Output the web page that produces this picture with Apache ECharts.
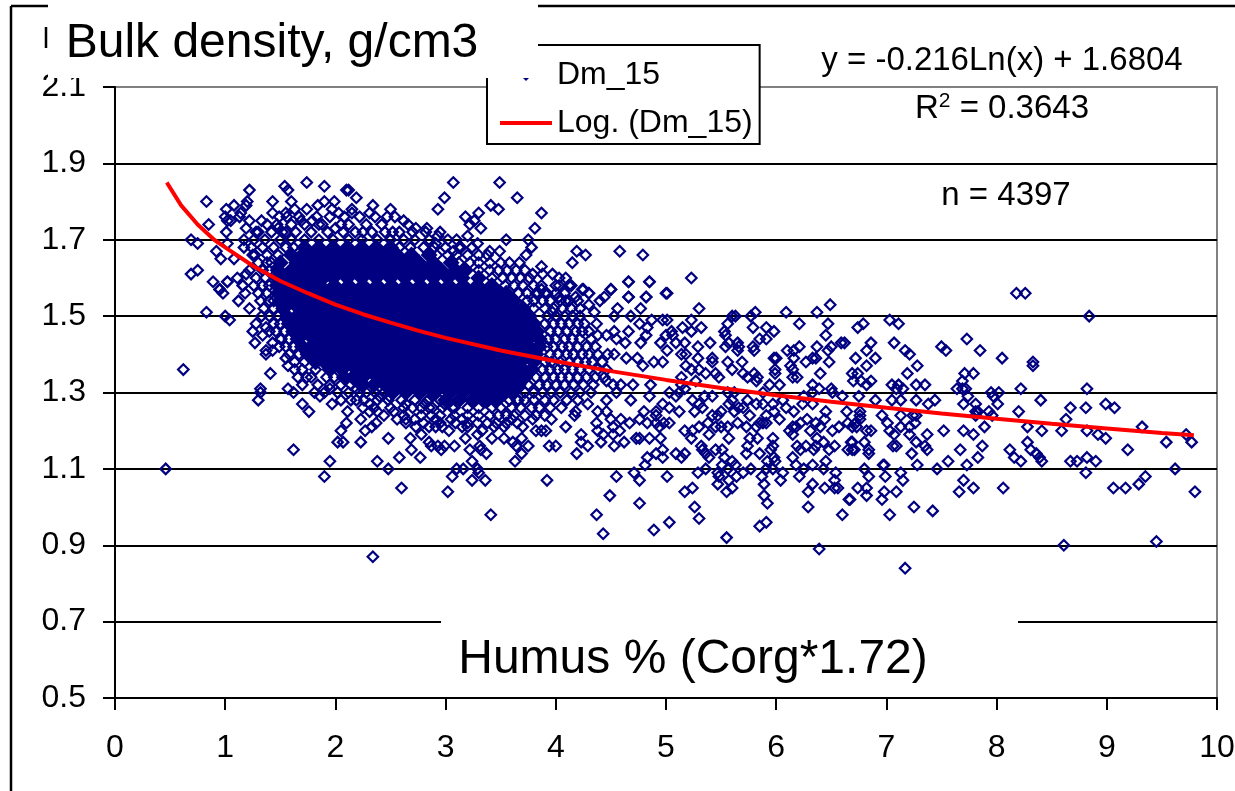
<!DOCTYPE html>
<html>
<head>
<meta charset="utf-8">
<style>
  html, body { margin: 0; padding: 0; background: #fff; }
  #chart { width: 1235px; height: 791px; }
</style>
<script src="https://cdn.jsdelivr.net/npm/echarts@6/dist/echarts.min.js"></script>
</head>
<body>
<div id="chart"></div>
<script>
// values. individual points where they can be told apart
const leftPoints = [[0.46,1.10],[0.62,1.36],[0.83,1.51],[1.0,1.5],[1.04,1.49],[0.89,1.59],[0.95,1.57],[0.98,1.56],[1.02,1.59],[1.16,1.58],[1.18,1.56],[1.12,1.54],[1.22,1.52],[1.28,1.48],[1.25,1.46],[1.27,1.43],[1.34,1.45],[1.37,1.47],[1.33,1.5],[1.4,1.46],[1.43,1.43],[1.37,1.41],[1.37,1.4],[1.51,1.44],[1.49,1.42],[1.43,1.41],[1.55,1.39],[1.57,1.37],[1.63,1.36],[1.41,1.35],[1.66,1.34],[1.74,1.34],[1.7,1.32],[1.57,1.31],[1.62,1.3],[1.32,1.31],[1.32,1.3],[1.3,1.28],[1.7,1.27],[1.76,1.25],[1.81,1.3],[1.86,1.29],[1.97,1.27],[1.95,1.31],[2.11,1.25],[2.23,1.23],[2.1,1.22],[2.05,1.2],[2.02,1.17],[2.07,1.17],[2.27,1.2],[2.33,1.21],[2.37,1.22],[2.23,1.17],[1.62,1.15],[1.95,1.12],[1.9,1.08],[2.38,1.12],[2.48,1.1],[2.48,1.18],[2.6,1.05],[2.58,1.13],[2.68,1.18],[2.69,1.15],[2.77,1.13],[3.02,1.04],[3.06,1.08],[3.1,1.1],[3.16,1.1],[3.24,1.12],[3.24,1.07],[3.29,1.1],[3.3,1.09],[3.36,1.07],[3.37,1.14],[3.31,1.16],[3.32,1.15],[3.22,1.15],[3.42,1.18],[3.41,0.98],[2.34,0.87],[2.96,1.15],[2.99,1.16],[3.08,1.16],[2.85,1.17],[2.87,1.16],[2.93,1.16],[3.18,1.18],[3.29,1.19],[2.78,1.19],[2.73,1.21],[2.64,1.22],[2.56,1.23],[2.44,1.24],[2.38,1.25],[2.31,1.25],[2.25,1.26],[2.19,1.28],[2.31,1.27],[2.53,1.25],[2.62,1.26],[2.72,1.23],[2.64,1.23],[2.85,1.21],[2.91,1.21],[2.97,1.21],[3.03,1.2],[3.09,1.22],[3.15,1.21],[3.2,1.21],[2.81,1.27],[2.88,1.26],[2.87,1.24],[2.91,1.23],[3.05,1.23],[2.99,1.27],[2.78,1.26],[3.29,1.22],[3.33,1.2],[3.44,1.21],[2.19,1.31],[2.28,1.3],[2.4,1.29],[2.49,1.29],[2.22,1.32],[2.64,1.27],[2.91,1.32],[2.88,1.29],[3.06,1.26],[3.15,1.23]];

const topPoints = [[0.83,1.8],[0.85,1.74],[0.69,1.7],[0.75,1.69],[0.69,1.61],[0.75,1.62],[1.01,1.78],[1.08,1.79],[1.2,1.8],[1.19,1.79],[1.22,1.83],[1.54,1.84],[1.57,1.83],[1.74,1.85],[1.9,1.84],[2.1,1.83],[2.12,1.83],[1.43,1.8],[1.6,1.8],[2.19,1.81],[1.99,1.8],[1.9,1.8],[1.84,1.79],[2.34,1.79],[1.0,1.76],[1.02,1.75],[1.05,1.75],[1.14,1.77],[1.13,1.76],[1.22,1.75],[1.33,1.75],[1.43,1.77],[1.49,1.76],[1.55,1.77],[1.63,1.78],[1.74,1.78],[1.69,1.75],[1.79,1.75],[1.88,1.74],[1.97,1.78],[2.03,1.77],[2.15,1.78],[2.15,1.77],[2.31,1.77],[2.5,1.78],[2.62,1.75],[2.47,1.76],[2.73,1.73],[2.58,1.72],[1.01,1.72],[1.19,1.73],[1.28,1.72],[1.48,1.73],[1.02,1.69],[1.17,1.7],[1.17,1.68],[0.92,1.67],[0.96,1.65],[1.08,1.65],[1.19,1.61],[1.11,1.6],[1.02,1.59],[0.95,1.57],[1.16,1.58],[1.25,1.66],[2.0,1.73],[2.25,1.72],[1.52,1.72],[3.07,1.85],[3.49,1.85],[2.99,1.81],[3.65,1.81],[2.93,1.78],[3.41,1.79],[3.48,1.78],[3.87,1.77],[3.18,1.76],[3.3,1.77],[3.26,1.75],[3.22,1.74],[3.32,1.73],[3.81,1.73],[2.83,1.73],[3.55,1.7],[3.75,1.7],[3.02,1.7],[2.93,1.71],[3.2,1.71],[3.78,1.68],[4.19,1.67],[4.27,1.66],[4.58,1.67],[4.79,1.66],[4.15,1.64],[3.87,1.63],[4.66,1.59],[4.85,1.59],[5.23,1.6],[5.0,1.56],[4.5,1.57],[4.82,1.55],[4.66,1.55],[3.97,1.61],[4.03,1.6],[4.09,1.6],[4.14,1.58],[4.24,1.57],[4.3,1.56],[3.79,1.61],[3.88,1.61],[4.0,1.58],[3.87,1.58],[3.67,1.64],[3.73,1.66],[3.14,1.68],[3.29,1.69],[3.4,1.67],[3.49,1.67],[3.07,1.67],[2.91,1.69]];

const middlePoints = [[4.5,1.57],[4.66,1.59],[4.85,1.59],[5.01,1.56],[4.82,1.55],[4.66,1.55],[4.77,1.52],[5.3,1.52],[4.56,1.52],[6.49,1.53],[6.37,1.51],[6.09,1.51],[5.81,1.51],[5.63,1.5],[4.53,1.5],[4.68,1.5],[4.25,1.57],[4.3,1.56],[4.44,1.55],[4.03,1.58],[4.12,1.58],[3.87,1.57],[3.9,1.56],[4.03,1.55],[4.18,1.55],[4.3,1.53],[4.4,1.54],[4.35,1.51],[3.97,1.51],[4.09,1.54],[5.6,1.5],[5.77,1.5],[6.21,1.48],[6.47,1.48],[5.79,1.47],[5.91,1.47],[5.98,1.46],[5.56,1.48],[5.32,1.47],[5.23,1.49],[5.15,1.47],[5.23,1.46],[4.97,1.49],[5.01,1.49],[4.87,1.49],[4.83,1.47],[4.76,1.48],[4.66,1.46],[4.53,1.46],[4.37,1.48],[5.05,1.46],[5.06,1.45],[5.53,1.46],[5.54,1.45],[4.82,1.45],[5.0,1.45],[6.45,1.45],[5.4,1.43],[4.95,1.43],[4.77,1.43],[4.63,1.43],[4.55,1.44],[4.46,1.45],[4.38,1.45],[4.32,1.44],[5.09,1.43],[5.17,1.43],[5.57,1.43],[5.65,1.43],[5.85,1.44],[5.91,1.44],[6.59,1.43],[6.62,1.43],[6.21,1.42],[6.37,1.42],[5.29,1.42],[5.54,1.42],[5.66,1.42],[5.79,1.42],[5.01,1.41],[6.16,1.41],[6.1,1.41],[6.5,1.42],[6.47,1.41],[5.65,1.41],[5.8,1.41],[5.14,1.4],[5.18,1.4],[5.29,1.39],[5.98,1.39],[6.0,1.39],[6.16,1.39],[6.33,1.39],[6.36,1.39],[6.48,1.38],[6.27,1.38],[5.69,1.38],[5.42,1.39],[5.42,1.38],[5.56,1.38],[4.97,1.38],[4.89,1.38],[4.64,1.39],[4.74,1.39],[4.47,1.4],[4.53,1.4],[5.18,1.37],[4.79,1.37],[6.13,1.37],[6.15,1.36],[5.3,1.36],[5.36,1.35],[5.45,1.35],[5.48,1.34],[5.6,1.36],[5.23,1.36],[5.99,1.36],[5.7,1.35],[5.74,1.34],[5.8,1.35],[5.83,1.34],[5.99,1.35],[6.15,1.34],[6.4,1.35],[5.14,1.34],[5.27,1.33],[5.82,1.33],[6.19,1.34],[5.94,1.32],[6.03,1.32],[6.33,1.32],[6.39,1.31],[6.5,1.31],[6.6,1.29],[4.86,1.32],[4.7,1.32],[4.59,1.32],[4.52,1.32],[4.46,1.33],[5.14,1.32],[5.17,1.31],[5.12,1.3],[5.09,1.29],[5.03,1.3],[4.85,1.29],[4.68,1.28],[4.46,1.28],[4.55,1.3],[5.42,1.29],[5.35,1.29],[5.56,1.3],[5.6,1.28],[5.24,1.28],[5.62,1.3],[6.33,1.3],[5.74,1.28],[5.88,1.3],[6.06,1.28],[6.24,1.27],[6.33,1.27],[6.25,1.29],[6.51,1.3],[4.97,1.27],[5.3,1.27],[5.57,1.27],[5.66,1.26],[5.62,1.25],[5.7,1.26],[5.82,1.27],[5.88,1.27],[5.97,1.27],[6.09,1.26],[6.16,1.25],[6.45,1.25],[6.64,1.25],[4.8,1.25],[4.91,1.25],[4.91,1.24],[5.03,1.26],[4.18,1.25],[4.17,1.24],[4.29,1.27],[4.38,1.25],[4.46,1.25],[5.26,1.25],[5.33,1.26],[5.12,1.25],[5.42,1.24],[5.47,1.24],[5.5,1.25],[5.76,1.24],[5.91,1.24],[5.98,1.25],[5.85,1.22],[5.91,1.22],[6.03,1.23],[6.44,1.23],[4.5,1.23],[4.59,1.23],[4.37,1.22],[4.76,1.23],[5.03,1.22],[4.98,1.22],[5.3,1.21],[5.38,1.22],[5.65,1.22],[6.15,1.21],[6.28,1.23],[6.36,1.22],[6.65,1.22],[4.09,1.21],[3.79,1.23],[3.7,1.21],[3.82,1.2],[3.87,1.2],[3.91,1.2],[3.96,1.23],[3.6,1.23],[3.53,1.21],[4.52,1.21],[4.67,1.22],[4.83,1.22],[4.91,1.22],[4.94,1.21],[5.17,1.2],[5.24,1.2],[5.45,1.21],[5.5,1.21],[5.56,1.21],[5.73,1.21],[5.82,1.21],[5.88,1.22],[6.12,1.2],[6.18,1.21],[6.22,1.22],[6.31,1.2],[6.4,1.21],[6.51,1.2],[6.57,1.21],[4.23,1.19],[4.43,1.19],[4.38,1.2],[4.52,1.19],[4.58,1.2],[4.73,1.18],[4.76,1.18],[4.85,1.18],[4.95,1.18],[5.23,1.18],[5.39,1.19],[5.57,1.18],[5.76,1.18],[5.83,1.18],[5.97,1.18],[6.15,1.19],[6.37,1.18],[6.43,1.17],[3.53,1.18],[3.61,1.17],[3.69,1.18],[3.75,1.16],[3.94,1.16],[4.0,1.16],[4.23,1.17],[4.29,1.16],[4.41,1.17],[4.53,1.16],[4.62,1.17],[5.32,1.16],[5.74,1.16],[5.97,1.16],[6.19,1.16],[6.27,1.16],[6.53,1.16],[6.36,1.16],[6.68,1.17],[3.64,1.16],[3.69,1.14],[4.19,1.14],[4.97,1.15],[4.91,1.14],[5.09,1.14],[5.17,1.14],[5.33,1.15],[5.36,1.14],[5.45,1.15],[5.51,1.15],[5.73,1.14],[5.85,1.14],[5.95,1.15],[5.98,1.13],[6.15,1.13],[6.22,1.15],[6.34,1.15],[6.48,1.15],[6.65,1.15],[4.83,1.13],[4.97,1.13],[5.14,1.13],[5.39,1.13],[5.53,1.13],[3.63,1.12],[4.81,1.11],[5.6,1.12],[5.63,1.11],[5.51,1.11],[5.92,1.12],[5.99,1.12],[5.91,1.1],[5.97,1.1],[6.06,1.09],[6.18,1.11],[6.33,1.11],[6.45,1.12],[6.54,1.09],[6.97,1.11],[5.36,1.1],[5.56,1.1],[5.77,1.1],[6.25,1.1],[6.43,1.1],[5.29,1.09],[4.71,1.09],[5.47,1.09],[5.7,1.09],[6.53,1.07],[3.92,1.07],[4.55,1.08],[4.76,1.07],[5.01,1.08],[5.48,1.08],[5.47,1.06],[5.57,1.07],[5.64,1.08],[5.87,1.08],[6.21,1.08],[6.04,1.07],[5.89,1.06],[6.33,1.06],[5.17,1.04],[5.24,1.05],[5.55,1.04],[5.6,1.05],[6.44,1.05],[6.53,1.05],[6.56,1.05],[6.29,1.04],[4.49,1.03],[5.89,1.03],[5.92,1.01],[4.76,1.01],[6.66,1.02],[5.26,1.0],[6.29,1.0],[5.3,0.97],[4.37,0.98],[6.6,0.98],[5.03,0.96],[5.91,0.96],[5.85,0.95],[4.89,0.94],[4.43,0.93],[5.55,0.92],[6.39,0.89]];

const rightPoints = [[8.18,1.56],[8.26,1.56],[8.84,1.5],[7.03,1.49],[7.11,1.48],[6.79,1.48],[6.74,1.47],[6.86,1.43],[7.07,1.43],[7.73,1.44],[7.5,1.42],[7.54,1.41],[7.85,1.41],[7.17,1.41],[7.21,1.4],[6.82,1.41],[6.72,1.39],[6.9,1.39],[8.05,1.39],[8.33,1.38],[8.33,1.37],[7.28,1.37],[6.82,1.37],[7.19,1.35],[7.71,1.35],[7.79,1.35],[6.69,1.35],[6.74,1.35],[7.69,1.33],[6.86,1.33],[6.77,1.33],[6.7,1.33],[6.82,1.32],[7.05,1.32],[7.11,1.32],[7.09,1.31],[7.15,1.31],[7.27,1.32],[7.35,1.32],[7.64,1.31],[7.69,1.31],[7.72,1.31],[8.22,1.31],[8.82,1.31],[7.74,1.29],[7.95,1.3],[7.97,1.29],[8.02,1.3],[6.75,1.29],[6.9,1.28],[7.05,1.28],[7.13,1.28],[7.27,1.28],[7.44,1.28],[7.38,1.27],[7.7,1.27],[7.81,1.27],[8.01,1.27],[8.4,1.28],[8.99,1.27],[8.67,1.26],[8.81,1.26],[9.07,1.26],[8.2,1.25],[7.81,1.25],[7.83,1.25],[7.93,1.25],[6.76,1.25],[6.76,1.24],[6.76,1.23],[6.96,1.24],[7.13,1.24],[7.24,1.24],[7.27,1.24],[7.81,1.24],[7.96,1.24],[8.63,1.23],[7.01,1.22],[6.72,1.22],[7.26,1.22],[7.21,1.21],[7.13,1.21],[7.89,1.21],[8.28,1.21],[9.32,1.21],[7.52,1.2],[7.7,1.2],[8.41,1.2],[8.59,1.2],[8.82,1.2],[7.03,1.2],[6.82,1.2],[6.86,1.2],[6.69,1.21],[6.73,1.21],[7.07,1.19],[7.21,1.19],[7.37,1.19],[7.79,1.19],[8.92,1.19],[9.72,1.19],[8.99,1.18],[6.8,1.17],[7.06,1.16],[7.09,1.16],[7.27,1.17],[7.35,1.16],[7.87,1.16],[8.28,1.17],[9.54,1.17],[9.77,1.17],[6.69,1.17],[6.69,1.15],[6.71,1.15],[6.84,1.15],[6.84,1.14],[7.37,1.15],[7.67,1.15],[8.12,1.15],[8.31,1.15],[9.19,1.15],[7.23,1.14],[8.36,1.14],[7.83,1.13],[8.16,1.13],[8.39,1.13],[8.82,1.13],[6.98,1.11],[7.28,1.11],[7.56,1.12],[7.73,1.11],[8.22,1.12],[8.41,1.12],[8.67,1.12],[8.73,1.12],[8.9,1.12],[6.8,1.1],[7.46,1.1],[9.62,1.1],[7.13,1.09],[8.81,1.09],[6.84,1.08],[6.99,1.08],[9.35,1.08],[7.15,1.07],[7.7,1.07],[9.29,1.06],[6.74,1.05],[6.82,1.05],[7.79,1.05],[8.06,1.05],[9.06,1.05],[9.17,1.05],[9.8,1.04],[6.98,1.04],[7.09,1.04],[7.66,1.04],[6.82,1.03],[6.96,1.02],[6.67,1.02],[7.25,1.0],[7.42,0.99],[7.03,0.98],[8.61,0.9],[9.45,0.91],[7.17,0.84]];

// half dense zone right of the solid cloud: humus values per density row
const shoulderY = [1.56,1.54,1.52,1.5,1.48,1.46,1.44,1.42,1.4,1.38,1.36,1.34,1.32,1.3,1.28,1.26,1.24,1.22];
const shoulderX = [
  [3.84,3.92,4.0,4.08],
  [3.88,3.95,4.04,4.12,4.2],
  [3.9,3.98,4.06,4.14,4.22],
  [3.92,4.0,4.08,4.15,4.22],
  [3.9,3.98,4.05,4.12,4.2,4.26],
  [3.95,4.02,4.1,4.18,4.24,4.3],
  [3.93,4.0,4.08,4.15,4.22],
  [3.92,3.98,4.06,4.12,4.2,4.28,4.36],
  [3.95,4.02,4.1,4.16,4.24,4.3,4.38],
  [3.9,3.96,4.04,4.12,4.2,4.27,4.33,4.42],
  [3.88,3.95,4.02,4.08,4.15,4.22,4.3,4.38,4.46],
  [3.82,3.9,3.98,4.05,4.12,4.2,4.28,4.36,4.44],
  [3.75,3.85,3.92,4.0,4.08,4.16,4.25,4.34],
  [3.72,3.8,3.88,3.96,4.04,4.14,4.22,4.32],
  [3.65,3.72,3.8,3.9,3.98,4.1,4.2],
  [3.6,3.68,3.78,3.85,3.95,4.05],
  [3.55,3.62,3.72,3.82,3.9],
  [3.46,3.55,3.65]
];

// crowded rim around the solid cloud, same row layout
const rimY = [1.76,1.74,1.72,1.7,1.68,1.66,1.64,1.62,1.6,1.58,1.56,1.54,1.52,1.5,1.48,1.46,1.44,1.42,1.4,1.38,1.36,1.34,1.32,1.3,1.28,1.26,1.24,1.22];
const rimX = [
  [1.56,1.67,1.83,1.95,2.08,2.22,2.36,2.54],
  [1.38,1.47,1.6,1.72,1.85,2.05,2.12,2.28,2.42,2.66],
  [1.3,1.42,1.55,1.64,1.78,1.93,2.07,2.18,2.33,2.45,2.52,2.7,2.82,2.95],
  [1.26,1.36,1.5,1.6,1.72,1.85,1.98,2.12,2.24,2.38,2.5,2.62,2.72,2.85,3.1],
  [1.24,1.34,1.44,1.55,1.62,2.58,2.68,2.8,2.9,3.0,3.12,3.24],
  [1.27,1.38,1.48,2.92,3.02,3.1,3.2,3.3,3.38],
  [1.3,1.38,1.42,3.12,3.22,3.3,3.4,3.5,3.58],
  [1.22,1.34,1.4,3.3,3.4,3.48,3.56,3.64,3.72],
  [1.28,1.36,3.42,3.52,3.6,3.68,3.76],
  [1.26,1.34,1.4,3.54,3.62,3.7,3.8],
  [1.3,1.38,3.66,3.74,3.82],
  [1.32,1.4,1.44,3.74,3.8],
  [1.35,1.44,3.8],
  [1.4,1.48],
  [1.44,1.5],
  [1.46,1.54],
  [1.5,1.58],
  [1.55,1.62],
  [1.58,1.67],
  [1.63,1.72],
  [1.7,1.82],
  [1.78,1.92,1.99],
  [1.84,1.95,2.05,2.14],
  [1.9,2.02,2.12,2.22,2.36,2.44],
  [2.05,2.14,2.26,2.38,2.48,2.6,2.72,2.84,2.95,3.48,3.58,3.66],
  [2.35,2.5,2.7,2.85,2.97,3.08,3.2,3.3,3.42,3.5],
  [2.62,2.78,2.95,3.08,3.2,3.3,3.4,3.48],
  [2.8,2.95,3.2,3.38]
];

// the solid cloud, too overlapped to separate: drawn as filled diamonds per density row
const coreY = [1.68,1.66,1.64,1.62,1.6,1.58,1.56,1.54,1.52,1.5,1.48,1.46,1.44,1.42,1.4,1.38,1.36,1.34,1.32,1.3,1.28];
const coreX = [
  [1.72,1.85,1.98,2.11,2.24,2.37,2.5],
  [1.6,1.7,1.78,1.91,2.04,2.17,2.3,2.43,2.56,2.69,2.85],
  [1.5,1.65,1.75,1.85,1.98,2.11,2.24,2.37,2.5,2.63,2.76,2.89,3.05],
  [1.48,1.6,1.72,1.82,1.92,2.05,2.18,2.31,2.44,2.57,2.7,2.83,2.96,3.09,3.18],
  [1.47,1.55,1.66,1.79,1.89,1.98,2.11,2.24,2.37,2.5,2.63,2.76,2.89,3.02,3.15,3.3],
  [1.47,1.6,1.73,1.86,1.99,2.12,2.25,2.38,2.51,2.64,2.77,2.9,3.03,3.16,3.29,3.42],
  [1.48,1.54,1.67,1.8,1.93,2.06,2.19,2.32,2.45,2.58,2.71,2.84,2.97,3.1,3.23,3.36,3.49,3.55],
  [1.5,1.6,1.73,1.86,1.99,2.12,2.25,2.38,2.51,2.64,2.77,2.9,3.03,3.16,3.29,3.42,3.55,3.62],
  [1.53,1.67,1.8,1.93,2.06,2.19,2.32,2.45,2.58,2.71,2.84,2.97,3.1,3.23,3.36,3.49,3.62,3.7],
  [1.56,1.65,1.73,1.86,1.99,2.12,2.25,2.38,2.51,2.64,2.77,2.9,3.03,3.16,3.29,3.42,3.55,3.68,3.76],
  [1.58,1.67,1.8,1.93,2.06,2.19,2.32,2.45,2.58,2.71,2.84,2.97,3.1,3.23,3.36,3.49,3.62,3.75,3.8],
  [1.62,1.73,1.86,1.99,2.12,2.25,2.38,2.51,2.64,2.77,2.9,3.03,3.16,3.29,3.42,3.55,3.68,3.76,3.83],
  [1.66,1.8,1.93,2.06,2.19,2.32,2.45,2.58,2.71,2.84,2.97,3.1,3.23,3.36,3.49,3.62,3.75,3.85],
  [1.7,1.78,1.86,1.99,2.12,2.25,2.38,2.51,2.64,2.77,2.9,3.03,3.16,3.29,3.42,3.55,3.68,3.76,3.85],
  [1.75,1.84,1.93,2.06,2.19,2.32,2.45,2.58,2.71,2.84,2.97,3.1,3.23,3.36,3.49,3.62,3.75,3.82],
  [1.82,1.9,1.99,2.12,2.25,2.38,2.51,2.64,2.77,2.9,3.03,3.16,3.29,3.42,3.55,3.68,3.8],
  [1.95,2.06,2.19,2.32,2.45,2.58,2.71,2.84,2.97,3.1,3.23,3.36,3.49,3.62,3.7,3.78],
  [2.08,2.16,2.25,2.38,2.51,2.64,2.77,2.9,3.03,3.16,3.29,3.42,3.55,3.64,3.72],
  [2.25,2.35,2.45,2.58,2.71,2.84,2.97,3.1,3.23,3.36,3.49,3.58,3.66],
  [2.52,2.64,2.77,2.9,3.04,3.16,3.29,3.43,3.52,3.6],
  [3.0,3.12,3.24,3.36,3.45]
];

const trendX = [0.47,0.6,0.75,0.9,1,1.25,1.5,1.75,2,2.25,2.5,2.75,3,3.5,4,4.5,5,5.5,6,6.5,7,7.5,8,8.5,9,9.5,9.79];
const trendY = [1.85,1.79,1.74,1.7,1.68,1.632,1.592,1.56,1.53,1.505,1.483,1.462,1.443,1.41,1.382,1.356,1.333,1.312,1.293,1.276,1.26,1.245,1.231,1.218,1.206,1.194,1.188];

const pointSeriesName = 'Dm_15';
const trendSeriesName = 'Log. (Dm_15)';
const ink = '#000';
const navy = '#000080';
const fontFamily = '"Liberation Sans", Arial, sans-serif';

const rowsToPoints = (ys, xs) => ys.flatMap((y, i) => xs[i].map(x => [x, y]));
const outlinePoints = [...leftPoints, ...topPoints, ...middlePoints, ...rightPoints, ...rowsToPoints(shoulderY, shoulderX), ...rowsToPoints(rimY, rimX)];

function label(x, y, text, size) {
  return { type: 'text', x, y, z: 30, style: { text, fill: ink, font: size + 'px ' + fontFamily, textAlign: 'center', textVerticalAlign: 'middle' } };
}

function line(x1, y1, x2, y2, width) {
  return { type: 'line', z: 31, shape: { x1, y1, x2, y2 }, style: { stroke: ink, lineWidth: width } };
}

const chart = echarts.init(document.getElementById('chart'), null, { renderer: 'canvas' });
chart.setOption({
  animation: false,
  backgroundColor: '#fff',
  textStyle: { fontFamily },
  grid: { left: 115, right: 18, top: 87, bottom: 93, outerBoundsMode: 'none', show: true, borderColor: '#808080', borderWidth: 2, backgroundColor: 'transparent' },
  legend: {
    data: [
      { name: pointSeriesName, icon: 'path://M5 0L10 5L5 10L0 5Z' },
      { name: trendSeriesName, itemStyle: { opacity: 0 }, lineStyle: { width: 4, color: '#ff0000' } }
    ],
    orient: 'vertical',
    left: 487,
    top: 45,
    padding: [14, 7, 5, 11],
    itemGap: 16,
    itemWidth: 52,
    itemHeight: 12,
    backgroundColor: '#fff',
    borderColor: ink,
    borderWidth: 2,
    textStyle: { color: ink, fontSize: 32, fontFamily }
  },
  xAxis: {
    type: 'value',
    min: 0,
    max: 10,
    interval: 1,
    splitLine: { show: false },
    axisLine: { lineStyle: { color: ink, width: 2 } },
    axisTick: { length: 12, lineStyle: { color: ink, width: 2 } },
    axisLabel: { color: ink, fontSize: 32, fontFamily, margin: 34, hideOverlap: false }
  },
  yAxis: {
    type: 'value',
    min: 0.5,
    max: 2.1,
    interval: 0.2,
    axisLine: { show: true, onZero: false, lineStyle: { color: ink, width: 2 } },
    axisTick: { show: true, length: 12, lineStyle: { color: ink, width: 2 } },
    axisLabel: { color: ink, fontSize: 32, fontFamily, margin: 29, formatter: v => v.toFixed(1) },
    splitLine: { show: true, showMaxLine: false, showMinLine: false, lineStyle: { color: ink, width: 2 } }
  },
  series: [
    {
      name: pointSeriesName,
      type: 'scatter',
      data: rowsToPoints(coreY, coreX),
      symbol: 'diamond',
      symbolSize: 17,
      silent: true,
      itemStyle: { color: navy, opacity: 1 }
    },
    {
      name: pointSeriesName,
      type: 'scatter',
      data: outlinePoints,
      symbol: 'diamond',
      symbolSize: 10.5,
      silent: true,
      itemStyle: { color: 'transparent', borderColor: navy, borderWidth: 2.2, opacity: 1 }
    },
    {
      name: trendSeriesName,
      type: 'line',
      data: trendX.map((x, i) => [x, trendY[i]]),
      symbol: 'none',
      smooth: false,
      z: 5,
      lineStyle: { color: '#ff0000', width: 4 },
      itemStyle: { color: '#ff0000' }
    }
  ],
  graphic: [
    { type: 'rect', z: 20, shape: { x: 48, y: 0, width: 490, height: 78 }, style: { fill: '#fff' } },
    { type: 'rect', z: 20, shape: { x: 441, y: 610, width: 577, height: 85 }, style: { fill: '#fff' } },
    line(11, 6, 48, 6, 2.5),
    line(538, 6, 1235, 6, 2.5),
    line(11, 6, 11, 791, 2.5),
    line(46, 27, 46, 48, 2.5),
    label(272, 44, 'Bulk density, g/cm3', 48),
    label(693, 660, 'Humus % (Corg*1.72)', 48),
    label(1002, 61, 'y = -0.216Ln(x) + 1.6804', 33),
    { type: 'text', x: 1002, y: 109, z: 30, style: {
      text: '{base|R}{sup|2}{base| = 0.3643}',
      textAlign: 'center',
      textVerticalAlign: 'middle',
      rich: {
        base: { fontSize: 33, fontFamily, fill: ink, lineHeight: 36 },
        sup: { fontSize: 21, fontFamily, fill: ink, verticalAlign: 'top', lineHeight: 36 }
      }
    } },
    label(1006, 196, 'n = 4397', 33)
  ]
});
</script>
</body>
</html>
